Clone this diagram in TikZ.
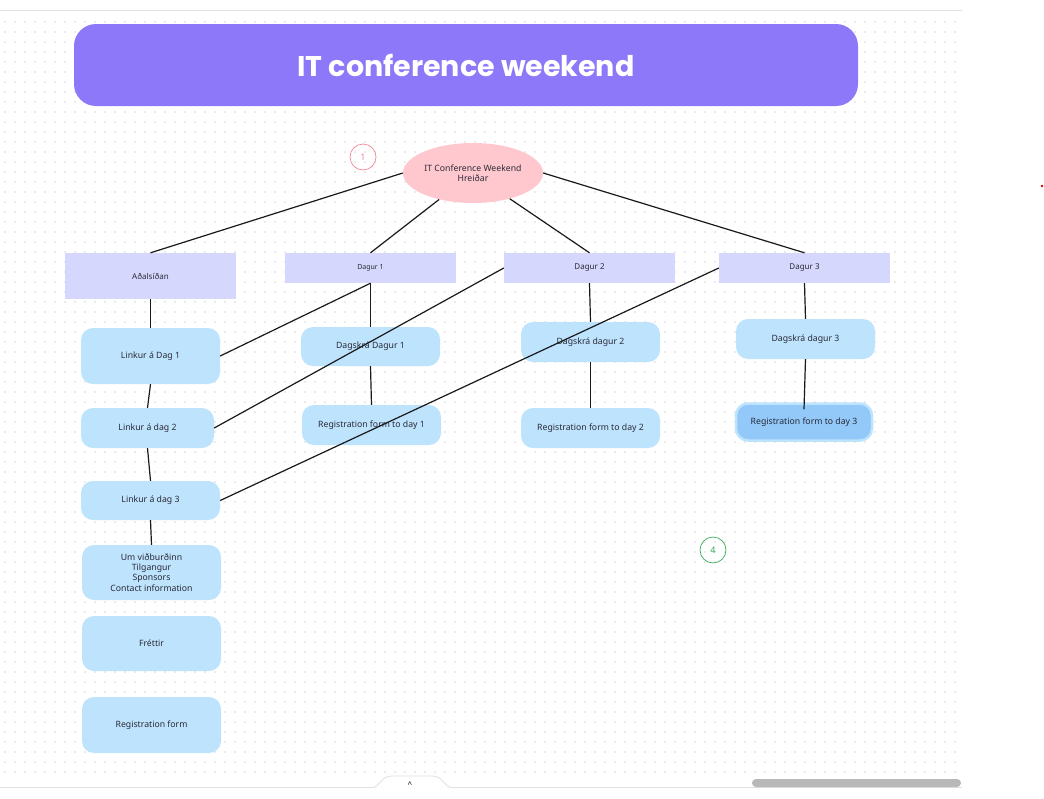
\documentclass[tikz,border=0pt]{standalone}
\usepackage{fontspec}
\setmainfont{Noto Sans}
\newfontfamily\titlefont{Poppins}
\usetikzlibrary{shapes.geometric}
\definecolor{titlebg}{HTML}{8C78F8}
\definecolor{pinkfill}{HTML}{FFC8CE}
\definecolor{lav}{HTML}{D6D7FC}
\definecolor{lblue}{HTML}{BEE3FD}
\definecolor{dblue}{HTML}{92C9F8}
\definecolor{txt}{HTML}{2A2A38}
\definecolor{dotc}{HTML}{EAEAEF}
\definecolor{pinkc}{HTML}{F08898}
\definecolor{greenc}{HTML}{3AAA5A}
\tikzset{
  x=1pt, y=-1pt,
  conn/.style={line width=1.2pt, draw=black!90},
  rectbox/.style={rectangle, fill=lav, inner sep=0pt, text=txt, font=\fontsize{8}{10}\selectfont},
  rbox/.style={rectangle, rounded corners=12pt, fill=lblue, inner sep=0pt, text=txt, align=center, font=\fontsize{8.7}{10.5}\selectfont},
  numcircle/.style={circle, minimum size=26pt, inner sep=0pt, line width=0.7pt, font=\fontsize{9}{10}\selectfont},
}
\begin{document}
\begin{tikzpicture}
\useasboundingbox (0,0) rectangle (1044,798);
\fill[white] (0,0) rectangle (1044,798);
% dotted canvas
\foreach \yy in {22,32,...,772}{
  \draw[dotc, line width=1.3pt, dash pattern=on 1.3pt off 8.7pt] (4.3,\yy) -- (956,\yy);
}
\draw[black!12, line width=0.8pt] (0,10.5) -- (962,10.5);
% title
\node[rectangle, rounded corners=22pt, fill=titlebg, minimum width=784pt, minimum height=82pt, inner sep=0pt,
      text=white, font=\titlefont\fontsize{28.5}{30}\selectfont\bfseries] (title) at (466,65) {IT conference weekend};
% root
\node[ellipse, fill=pinkfill, minimum width=140pt, minimum height=60pt, inner sep=0pt, align=center, text=txt,
      font=\fontsize{8.7}{10.5}\selectfont] (root) at (473,173) {IT Conference Weekend\\Hreiðar};
\node[numcircle, draw=pinkc, text=pinkc] (n1) at (363,157) {1};
\node[numcircle, draw=greenc, text=greenc] (n4) at (713,550) {4};
% level 1
\node[rectbox, minimum width=171pt, minimum height=46pt] (main) at (150.5,276) {Aðalsíðan};
\node[rectbox, minimum width=171pt, minimum height=30pt, font=\fontsize{7}{9}\selectfont] (d1) at (370.5,268) {Dagur 1};
\node[rectbox, minimum width=171pt, minimum height=30pt] (d2) at (589.5,268) {Dagur 2};
\node[rectbox, minimum width=171pt, minimum height=30pt] (d3) at (804.5,268) {Dagur 3};
% left column
\node[rbox, minimum width=139pt, minimum height=56pt] (l1) at (150.5,356) {Linkur á Dag 1};
\node[rbox, minimum width=133pt, minimum height=40pt] (l2) at (147.5,428) {Linkur á dag 2};
\node[rbox, minimum width=139pt, minimum height=39pt] (l3) at (150.5,500.5) {Linkur á dag 3};
\node[rbox, minimum width=139pt, minimum height=55pt, font=\fontsize{8.7}{10.3}\selectfont] (um) at (151.5,572.5) {Um viðburðinn\\Tilgangur\\Sponsors\\Contact information};
\node[rbox, minimum width=139pt, minimum height=55pt] (fr) at (151.5,643.5) {Fréttir};
\node[rbox, minimum width=139pt, minimum height=56pt] (rf) at (151.5,725) {Registration form};
% day columns
\node[rbox, minimum width=139pt, minimum height=39pt] (s1) at (370.5,346.5) {Dagskrá Dagur 1};
\node[rbox, minimum width=139pt, minimum height=40pt] (r1) at (371.5,425) {Registration form to day 1};
\node[rbox, minimum width=139pt, minimum height=40pt] (s2) at (590.5,342) {Dagskrá dagur 2};
\node[rbox, minimum width=139pt, minimum height=40pt] (r2) at (590.5,428) {Registration form to day 2};
\node[rbox, minimum width=139pt, minimum height=40pt] (s3) at (805.5,339) {Dagskrá dagur 3};
\node[rbox, fill=dblue, draw=lblue, line width=2.5pt, minimum width=136pt, minimum height=37pt] (r3) at (804,422) {Registration form to day 3};
% connectors
\draw[conn] (root.west) -- (main.north);
\draw[conn] (root.218) -- (d1.north);
\draw[conn] (root.325) -- (d2.north);
\draw[conn] (root.east) -- (d3.north);
\draw[conn] (main.south) -- (l1.north);
\draw[conn] (l1.south) -- (l2.north);
\draw[conn] (l2.south) -- (l3.north);
\draw[conn] (l3.south) -- (um.north);
\draw[conn] (d1.south) -- (l1.east);
\draw[conn] (d1.south) -- (s1.north);
\draw[conn] (s1.south) -- (r1.north);
\draw[conn] (d2.west) -- (l2.east);
\draw[conn] (d2.south) -- (s2.north);
\draw[conn] (s2.south) -- (r2.north);
\draw[conn] (d3.west) -- (l3.east);
\draw[conn] (d3.south) -- (s3.north);
\draw[conn] (s3.south) -- ([yshift=-7pt]r3.north);
% bottom ui
\fill[white] (0,788) rectangle (962,798);
\draw[black!12, line width=0.8pt] (0,787.5) -- (372,787.5) .. controls (380,787.5) and (380,776) .. (392,776) -- (432,776) .. controls (444,776) and (444,787.5) .. (452,787.5) -- (962,787.5);
\node[font=\fontsize{8}{8}\selectfont\bfseries, inner sep=0pt] (caret) at (410,785) {\^{}};
\fill[black!28, rounded corners=4pt] (752,779) rectangle (961,787);
\fill[red!85!black] (1042,186) circle[radius=1.3pt];
\end{tikzpicture}
\end{document}
